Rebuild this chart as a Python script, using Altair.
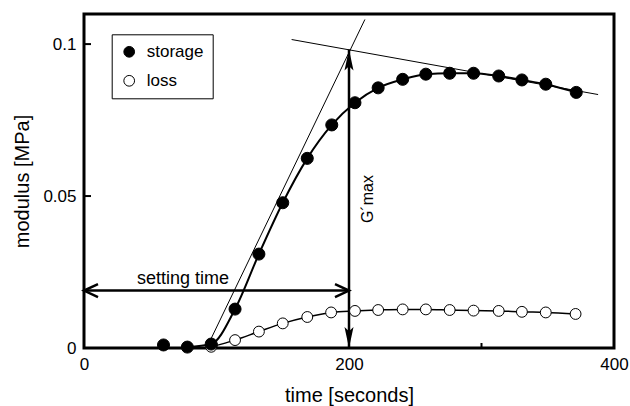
import altair as alt
import pandas as pd

# ---- data ----
storage_time = [60, 78, 96, 114, 132, 150, 168.5, 187, 204.5, 222, 240.5, 258, 276, 294, 313, 330.5, 348.5, 371.5]
storage_mod = [0.0010, 0.0003, 0.0013, 0.0128, 0.0309, 0.0478, 0.0624, 0.0734, 0.0807, 0.0856,
               0.0884, 0.0901, 0.0904, 0.0904, 0.0895, 0.0882, 0.0868, 0.0841]
loss_time = [96, 114, 132, 150, 168.5, 186.5, 204.5, 222, 240.5, 258, 276, 294, 313, 330.5, 348.5, 371]
loss_mod = [0.0004, 0.0026, 0.0054, 0.0081, 0.0102, 0.0117, 0.0122, 0.0125, 0.0127, 0.0127,
            0.0125, 0.0123, 0.0122, 0.0119, 0.0117, 0.0112]

curve_start_time = 78  # fitted curve of storage modulus starts here

tangent1_time = [92.5, 212]
tangent1_mod = [0.0, 0.1081]
tangent2_time = [156.7, 388]
tangent2_mod = [0.1015, 0.0834]

gmax_time = [200, 200]
gmax_mod = [0.0, 0.0982]
setting_time = [0, 200]
setting_level = [0.0189, 0.0189]

x_labels = [0, 200, 400]
x_ticks = [100, 200, 300]
y_labels = [0, 0.05, 0.1]
y_ticks = [0.05, 0.1]

FONT = "Liberation Sans"
W, H = 530, 334

df = pd.DataFrame({
    "time": storage_time + loss_time,
    "modulus": storage_mod + loss_mod,
    "series": ["storage"] * len(storage_time) + ["loss"] * len(loss_time),
})

xs = alt.Scale(domain=[0, 400], nice=False, zero=False)
ys = alt.Scale(domain=[0, 0.1099], nice=False, zero=False)

X = alt.X("time:Q", scale=xs, title="time [seconds]",
          axis=alt.Axis(values=x_labels, tickSize=0, domain=False, grid=False, labelFlush=False,
                        labelFontSize=17, labelPadding=8, titleFontSize=20, titlePadding=13,
                        labelColor="black", titleColor="black", titleFontWeight="normal"))
Y = alt.Y("modulus:Q", scale=ys, title="modulus [MPa]",
          axis=alt.Axis(values=y_labels, format=".2~f", tickSize=0, domain=False, grid=False,
                        labelFontSize=17, labelPadding=8, titleFontSize=20, titlePadding=10,
                        labelColor="black", titleColor="black", titleFontWeight="normal"))

# tangent lines
t1 = alt.Chart(pd.DataFrame({"time": tangent1_time, "modulus": tangent1_mod})).mark_line(
    color="black", strokeWidth=1).encode(x=X, y=Y)
t2 = alt.Chart(pd.DataFrame({"time": tangent2_time, "modulus": tangent2_mod})).mark_line(
    color="black", strokeWidth=1).encode(x=X, y=Y)

# fitted curves
storage_curve = alt.Chart(df).transform_filter(
    (alt.datum.series == "storage") & (alt.datum.time >= curve_start_time)
).mark_line(color="black", strokeWidth=2, interpolate="monotone").encode(x=X, y=Y)
loss_curve = alt.Chart(df).transform_filter(alt.datum.series == "loss").mark_line(
    color="black", strokeWidth=1.5, interpolate="monotone").encode(x=X, y=Y)

# G'max arrow
gdf = pd.DataFrame({"time": gmax_time, "modulus": gmax_mod})
g_line = alt.Chart(gdf).mark_line(color="black", strokeWidth=2.5).encode(x=X, y=Y)
g_up = alt.Chart(gdf.iloc[[1]]).mark_point(
    shape="M0,0 L0.43,2 L0,1.6 L-0.43,2 Z", filled=True, size=441, color="black",
    opacity=1, strokeWidth=0).encode(x=X, y=Y)
g_down = alt.Chart(gdf.iloc[[0]]).mark_point(
    shape="M0,0 L0.43,-2 L0,-1.6 L-0.43,-2 Z", filled=True, size=441, color="black",
    opacity=1, strokeWidth=0).encode(x=X, y=Y)

# setting time arrow
sdf = pd.DataFrame({"time": setting_time, "modulus": setting_level})
s_line = alt.Chart(sdf).mark_line(color="black", strokeWidth=2.5).encode(x=X, y=Y)
s_left = alt.Chart(sdf.iloc[[0]]).mark_point(
    shape="M1.4,-0.65 L0,0 L1.4,0.65", filled=False, size=400, color="black",
    opacity=1, strokeWidth=2.5).encode(x=X, y=Y)
s_right = alt.Chart(sdf.iloc[[1]]).mark_point(
    shape="M-1.4,-0.65 L0,0 L-1.4,0.65", filled=False, size=400, color="black",
    opacity=1, strokeWidth=2.5).encode(x=X, y=Y)

# text annotations
txt_setting = alt.Chart(pd.DataFrame({"time": [74.7], "modulus": [0.0228], "label": ["setting time"]})).mark_text(
    fontSize=18, font=FONT, color="black", align="center", baseline="middle").encode(x=X, y=Y, text="label:N")
txt_gmax = alt.Chart(pd.DataFrame({"time": [214.3], "modulus": [0.0490], "label": ["G´max"]})).mark_text(
    fontSize=16, font=FONT, color="black", align="center", baseline="middle", angle=270).encode(x=X, y=Y, text="label:N")

# inward ticks
ytick = alt.Chart(pd.DataFrame({"modulus": y_ticks})).mark_rule(color="black", strokeWidth=2).encode(
    y=alt.Y("modulus:Q", scale=ys), x=alt.value(0), x2=alt.value(7))
xtick = alt.Chart(pd.DataFrame({"time": x_ticks})).mark_rule(color="black", strokeWidth=2).encode(
    x=alt.X("time:Q", scale=xs), y=alt.value(H), y2=alt.value(H - 5))

# data points (one layer per series so each gets its own marker size; shared fill legend)
fill_enc = alt.Fill("series:N",
                    scale=alt.Scale(domain=["storage", "loss"], range=["black", "white"]),
                    legend=alt.Legend(title=None, orient="none", legendX=27.7, legendY=20.3,
                                      strokeColor="black", fillColor="white", padding=9,
                                      labelFontSize=17, labelFont=FONT, labelColor="black",
                                      symbolSize=115, symbolType="circle",
                                      symbolStrokeColor="black", symbolStrokeWidth=1,
                                      rowPadding=11, labelOffset=9))
pts_storage = alt.Chart(df).transform_filter(alt.datum.series == "storage").mark_point(
    filled=True, size=145, stroke="black", strokeWidth=1, opacity=1).encode(x=X, y=Y, fill=fill_enc)
pts_loss = alt.Chart(df).transform_filter(alt.datum.series == "loss").mark_point(
    filled=True, size=118, stroke="black", strokeWidth=1, opacity=1).encode(x=X, y=Y, fill=fill_enc)

chart = alt.layer(
    t1, t2, storage_curve, loss_curve, g_line, s_line, g_up, g_down, s_left, s_right,
    txt_setting, txt_gmax, ytick, xtick, pts_loss, pts_storage
).properties(
    width=W, height=H,
    autosize=alt.AutoSizeParams(type="none"),
    padding={"left": 84, "top": 14, "right": 16, "bottom": 58},
    background="white",
).configure(font=FONT).configure_view(stroke="black", strokeWidth=3)

chart.save("out.html", embed_options={"renderer": "svg", "actions": False})
